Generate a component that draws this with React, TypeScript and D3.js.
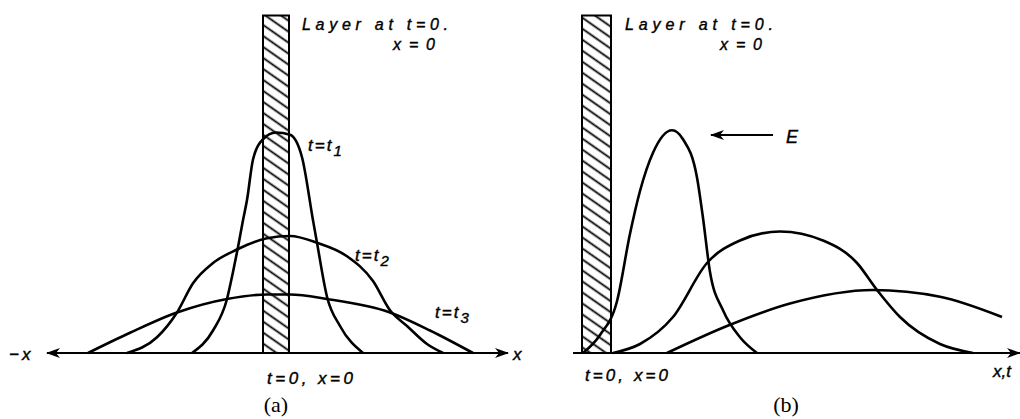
import * as d3 from "d3";

// (a) spreading of a thin layer by diffusion only: [x, concentration]
const spreadT1: [number, number][] = [
  [-0.84, 0], [-0.63, 0.1], [-0.49, 0.24], [-0.43, 0.36], [-0.38, 0.47], [-0.33, 0.59],
  [-0.29, 0.68], [-0.23, 0.86], [-0.13, 0.95], [0, 0.98], [0.14, 0.97], [0.26, 0.87],
  [0.37, 0.59], [0.41, 0.49], [0.51, 0.25], [0.64, 0.12], [0.87, 0],
];
const spreadT2: [number, number][] = [
  [-1.49, 0], [-1.19, 0.07], [-0.99, 0.18], [-0.83, 0.31], [-0.63, 0.4], [-0.39, 0.46],
  [-0.09, 0.51], [0.14, 0.52], [0.41, 0.49], [0.71, 0.43], [0.97, 0.32], [1.14, 0.19],
  [1.31, 0.12], [1.51, 0.04], [1.67, 0],
];
const spreadT3: [number, number][] = [
  [-1.88, 0], [-1.46, 0.09], [-0.99, 0.18], [-0.49, 0.24], [-0.09, 0.26], [0.14, 0.26],
  [0.51, 0.24], [1.14, 0.18], [1.54, 0.1], [1.97, 0],
];

// (b) same layer drifting in a field E
const driftT1: [number, number][] = [
  [0.01, 0], [0.18, 0.08], [0.35, 0.23], [0.48, 0.53], [0.58, 0.72], [0.71, 0.89],
  [0.9, 0.99], [1.01, 0.95], [1.15, 0.78], [1.21, 0.6], [1.28, 0.36], [1.41, 0.19],
  [1.58, 0.07], [1.75, 0],
];
const driftT2: [number, number][] = [
  [0.31, 0], [0.58, 0.04], [0.91, 0.16], [1.25, 0.4], [1.58, 0.5], [1.98, 0.54],
  [2.41, 0.5], [2.75, 0.4], [2.95, 0.28], [3.18, 0.16], [3.58, 0.04], [3.91, 0],
];
const driftT3: [number, number][] = [
  [0.85, 0], [1.45, 0.12], [2.08, 0.22], [2.91, 0.28], [3.58, 0.25], [4.2, 0.16],
];

const layerA = [-0.13, 0.13];
const layerB = [0, 0.29];
const layerTop = 1.5;

const W = 1020;
const H = 419;

const xA = d3.scaleLinear().domain([-2.29, 2.32]).range([47, 508]);
const xB = d3.scaleLinear().domain([-0.09, 4.38]).range([573, 1020]);
const y = d3.scaleLinear().domain([0, 1]).range([353, 128]);

// scanned-looking italic labels
const lbl = {
  fontFamily: "'Liberation Sans', Arial, sans-serif",
  fontStyle: "italic",
  fontSize: 17,
  stroke: "#000",
  strokeWidth: 0.4,
} as const;
const sub = { fontSize: 15, dy: 5 };
const head = { ...lbl, fontSize: 16 };

export default function App() {
  const lineA = d3.line<[number, number]>().x((d) => xA(d[0])).y((d) => y(d[1])).curve(d3.curveMonotoneX);
  const lineB = d3.line<[number, number]>().x((d) => xB(d[0])).y((d) => y(d[1])).curve(d3.curveMonotoneX);
  const curve = { fill: "none", stroke: "#000", strokeWidth: 2.6, strokeLinejoin: "round" as const };

  return (
    <svg width={W} height={H} style={{ position: "absolute", left: 0, top: 0, background: "#fff" }}>
      <defs>
        <pattern id="hatch" width={9} height={9} patternUnits="userSpaceOnUse" patternTransform="rotate(35)">
          <line x1={0} y1={4.5} x2={9} y2={4.5} stroke="#000" strokeWidth={1.8} />
        </pattern>
        <marker id="arr" viewBox="0 0 14 10" refX={13} refY={5} markerWidth={14} markerHeight={10}
          markerUnits="userSpaceOnUse" orient="auto-start-reverse">
          <path d="M0,0 L14,5 L0,10 L4,5 z" fill="#000" />
        </marker>
      </defs>

      {/* panel (a) */}
      <rect x={xA(layerA[0])} y={y(layerTop)} width={xA(layerA[1]) - xA(layerA[0])} height={y(0) - y(layerTop)}
        fill="url(#hatch)" stroke="#000" strokeWidth={2} />
      <line x1={xA.range()[0]} x2={xA.range()[1]} y1={y(0)} y2={y(0)} stroke="#000" strokeWidth={2}
        markerStart="url(#arr)" markerEnd="url(#arr)" />
      <path d={lineA(spreadT1) ?? ""} {...curve} />
      <path d={lineA(spreadT2) ?? ""} {...curve} />
      <path d={lineA(spreadT3) ?? ""} {...curve} />

      <text x={302} y={30} {...head} textLength={146} lengthAdjust="spacing">Layer at t=0.</text>
      <text x={393} y={50} {...head} textLength={42} lengthAdjust="spacing">x=0</text>
      <text x={308} y={151} {...lbl} letterSpacing={2}>t=t<tspan {...sub}>1</tspan></text>
      <text x={355} y={261} {...lbl} letterSpacing={2}>t=t<tspan {...sub}>2</tspan></text>
      <text x={435} y={318} {...lbl} letterSpacing={2}>t=t<tspan {...sub}>3</tspan></text>
      <text x={267} y={384} {...lbl} textLength={86} lengthAdjust="spacing">t=0, x=0</text>
      <text x={9} y={360} {...lbl} letterSpacing={3}>−x</text>
      <text x={513} y={360} {...lbl}>x</text>
      <text x={xA(0)} y={412} textAnchor="middle" fontFamily="'Liberation Serif', 'Times New Roman', serif" fontSize={22}>(a)</text>

      {/* panel (b) */}
      <rect x={xB(layerB[0])} y={y(layerTop)} width={xB(layerB[1]) - xB(layerB[0])} height={y(0) - y(layerTop)}
        fill="url(#hatch)" stroke="#000" strokeWidth={2} />
      <line x1={xB.range()[0]} x2={xB.range()[1]} y1={y(0)} y2={y(0)} stroke="#000" strokeWidth={2}
        markerEnd="url(#arr)" />
      <path d={lineB(driftT1) ?? ""} {...curve} />
      <path d={lineB(driftT2) ?? ""} {...curve} />
      <path d={lineB(driftT3) ?? ""} {...curve} />

      <text x={625} y={30} {...head} textLength={148} lengthAdjust="spacing">Layer at t=0.</text>
      <text x={720} y={50} {...head} textLength={42} lengthAdjust="spacing">x=0</text>
      <line x1={711} x2={773} y1={135} y2={135} stroke="#000" strokeWidth={2} markerStart="url(#arr)" />
      <text x={786} y={143} {...lbl} fontSize={18}>E</text>
      <text x={585} y={381} {...lbl} textLength={83} lengthAdjust="spacing">t=0, x=0</text>
      <text x={993} y={377} {...lbl}>x,t</text>
      <text x={786} y={412} textAnchor="middle" fontFamily="'Liberation Serif', 'Times New Roman', serif" fontSize={22}>(b)</text>
    </svg>
  );
}
